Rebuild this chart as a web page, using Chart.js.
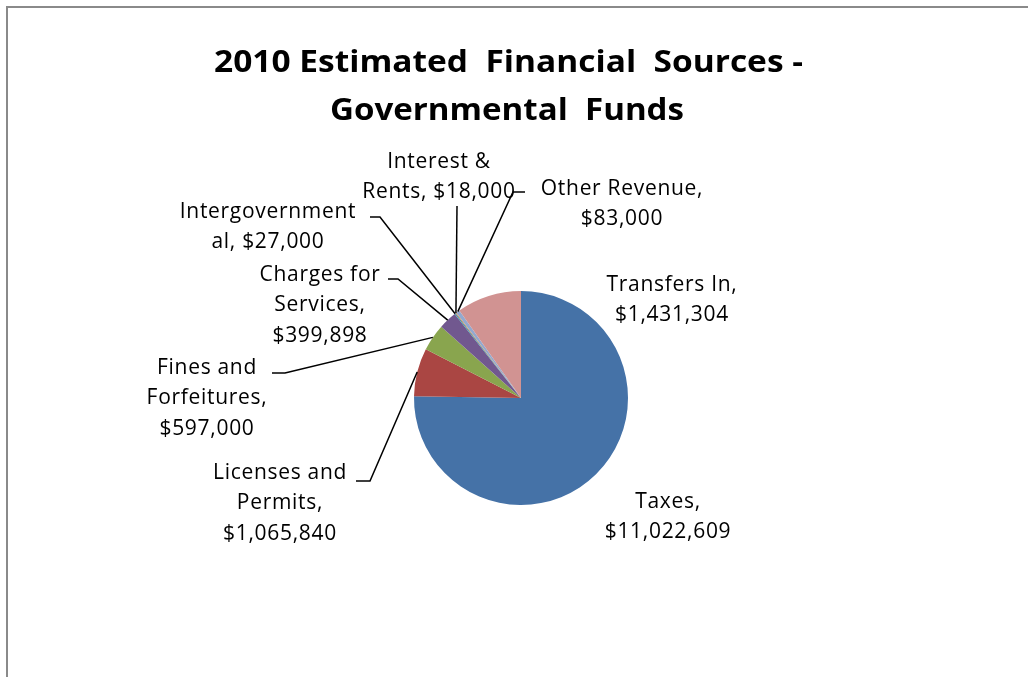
<!DOCTYPE html>
<html>
<head>
<meta charset="utf-8">
<script src="https://cdn.jsdelivr.net/npm/chart.js@4"></script>
<style>
  html, body { margin: 0; padding: 0; background: #ffffff; }
  #wrap { position: relative; width: 1028px; height: 677px; overflow: hidden; }
  #frame { position: absolute; left: 6px; top: 6px; width: 1100px; height: 800px;
           border-left: 2px solid #8a8a8a; border-top: 2px solid #8a8a8a; box-sizing: border-box; }
  canvas { position: absolute; left: 0; top: 0; }
</style>
</head>
<body>
<div id="wrap">
  <div id="frame"></div>
  <canvas id="pie" width="1028" height="677"></canvas>
</div>
<script>
// Revenue sources, in the order the slices run clockwise from 12 o'clock
const categories = [
  'Taxes',
  'Licenses and Permits',
  'Fines and Forfeitures',
  'Charges for Services',
  'Intergovernmental',
  'Interest & Rents',
  'Other Revenue',
  'Transfers In'
];
const amounts = [11022609, 1065840, 597000, 399898, 27000, 18000, 83000, 1431304];
const titleLines = ['2010 Estimated  Financial  Sources -', 'Governmental  Funds'];

const sliceColors = ['#4572A7', '#AA4643', '#89A54E', '#71588F', '#4198AF', '#DB843D', '#93A9CF', '#D19392'];

// Label placement, as offsets from the pie centre: first text baseline, the
// character positions where the label text wraps, and the elbow / end of the
// leader line (the leader starts at the slice's outer midpoint).
const labelPlacement = [
  { tx: 147,  ty: 109.5,  breaks: [6] },
  { tx: -241, ty: 80.5,   breaks: [12, 21], elbow: [-151, 83],   end: [-165, 83] },
  { tx: -314, ty: -24.5,  breaks: [9, 22],  elbow: [-236, -25],  end: [-249, -25] },
  { tx: -201, ty: -117.5, breaks: [11, 21], elbow: [-123, -119], end: [-133, -119] },
  { tx: -253, ty: -180.5, breaks: [15],     elbow: [-141, -181], end: [-151, -181] },
  { tx: -82,  ty: -230.5, breaks: [10],     elbow: [-64, -192] },
  { tx: 101,  ty: -203.5, breaks: [14],     elbow: [-8, -206],   end: [4, -206] },
  { tx: 151,  ty: -107.5, breaks: [13] }
];

const LABEL_FONT = '21px "Open Sans", "DejaVu Sans", sans-serif';
const LABEL_SPACING = '0.7px';
const LINE_GAP = 30.5;

function money(v) {
  return '$' + v.toLocaleString('en-US');
}

function splitLabel(text, breaks) {
  const out = [];
  let from = 0;
  for (const b of breaks) {
    out.push(text.slice(from, b).trim());
    from = b;
  }
  out.push(text.slice(from).trim());
  return out;
}

const titlePlugin = {
  id: 'fittedTitle',
  afterDraw(chart) {
    const ctx = chart.ctx;
    ctx.save();
    ctx.fillStyle = '#000000';
    ctx.font = 'bold 31px "Open Sans", "DejaVu Sans", sans-serif';
    ctx.textBaseline = 'alphabetic';
    ctx.textAlign = 'left';
    const spec = [
      { cx: 508.5, base: 72, w: 589 },
      { cx: 507, base: 120, w: 354 }
    ];
    titleLines.forEach((t, i) => {
      const s = spec[i];
      const natural = ctx.measureText(t).width;
      const k = s.w / natural;
      ctx.save();
      ctx.translate(s.cx - s.w / 2, s.base);
      ctx.scale(k, 1);
      ctx.fillText(t, 0, 0);
      ctx.restore();
    });
    ctx.restore();
  }
};

const labelPlugin = {
  id: 'sliceLabels',
  afterDraw(chart) {
    const ctx = chart.ctx;
    const meta = chart.getDatasetMeta(0);
    ctx.save();
    ctx.font = LABEL_FONT;
    if ('letterSpacing' in ctx) ctx.letterSpacing = LABEL_SPACING;
    ctx.fillStyle = '#000000';
    ctx.strokeStyle = '#000000';
    ctx.lineWidth = 1.5;
    ctx.textAlign = 'center';
    ctx.textBaseline = 'alphabetic';
    meta.data.forEach((arc, i) => {
      const p = arc.getProps(['x', 'y', 'startAngle', 'endAngle', 'outerRadius'], true);
      const cx = p.x, cy = p.y;
      const mid = (p.startAngle + p.endAngle) / 2;
      const ax = cx + Math.cos(mid) * p.outerRadius;
      const ay = cy + Math.sin(mid) * p.outerRadius;
      const pl = labelPlacement[i];
      if (pl.elbow) {
        ctx.beginPath();
        ctx.moveTo(ax, ay);
        ctx.lineTo(cx + pl.elbow[0], cy + pl.elbow[1]);
        if (pl.end) ctx.lineTo(cx + pl.end[0], cy + pl.end[1]);
        ctx.stroke();
      }
      const text = categories[i] + ', ' + money(amounts[i]);
      const lines = splitLabel(text, pl.breaks);
      lines.forEach((ln, j) => {
        ctx.fillText(ln, cx + pl.tx, cy + pl.ty + j * LINE_GAP);
      });
    });
    ctx.restore();
  }
};

new Chart(document.getElementById('pie'), {
  type: 'pie',
  data: {
    labels: categories,
    datasets: [{
      data: amounts,
      backgroundColor: sliceColors,
      borderWidth: 0
    }]
  },
  options: {
    responsive: false,
    animation: false,
    layout: { padding: { left: 414, right: 400, top: 291, bottom: 172 } },
    plugins: {
      legend: { display: false },
      title: { display: false },
      tooltip: { enabled: false }
    }
  },
  plugins: [titlePlugin, labelPlugin]
});
</script>
</body>
</html>
